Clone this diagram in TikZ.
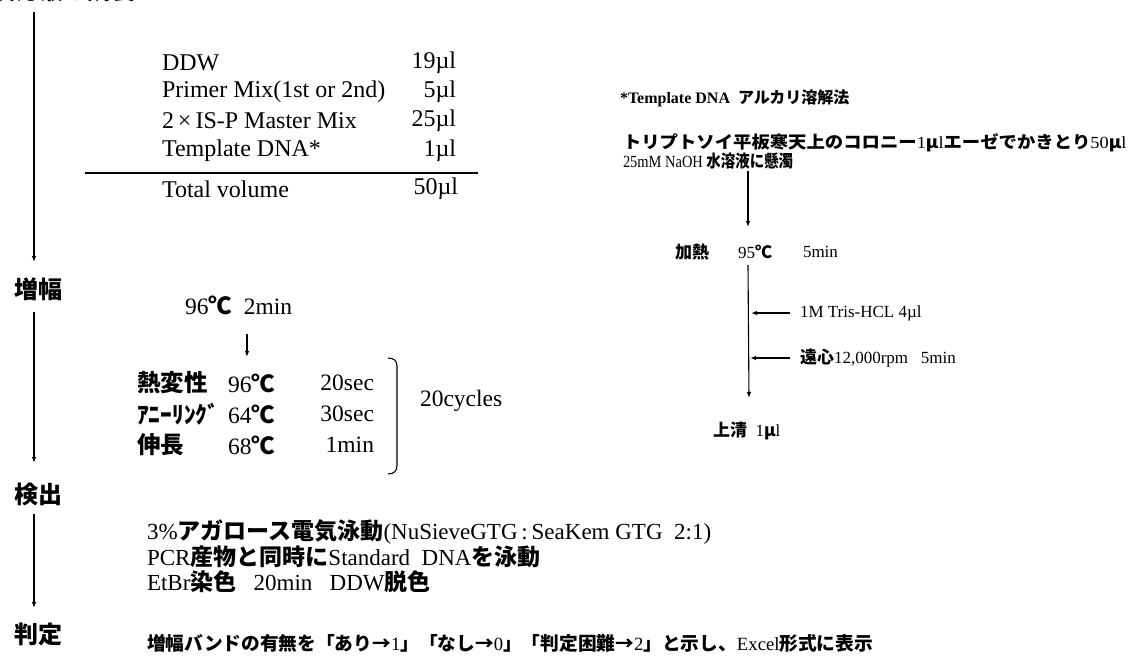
\documentclass[tikz,border=0pt]{standalone}
\usepackage{fontspec}
\setmainfont{Liberation Serif}
\newfontfamily\jp{Noto Sans CJK JP}
\usetikzlibrary{arrows.meta}
\newcommand{\J}[1]{{\jp\bfseries #1}}
\begin{document}
\begin{tikzpicture}[x=1pt,y=-1pt,
  every node/.style={inner sep=0pt,outer sep=0pt},
  head/.style={font=\jp\bfseries\fontsize{24}{24}\selectfont,anchor=center},
  tbl/.style={font=\fontsize{24}{24}\selectfont,anchor=west},
  val/.style={font=\fontsize{24}{24}\selectfont,anchor=east},
  pcr/.style={font=\fontsize{23.5}{24}\selectfont,anchor=west},
  pcrj/.style={font=\jp\bfseries\fontsize{23.5}{24}\selectfont,anchor=west},
  pcrv/.style={font=\fontsize{23.5}{24}\selectfont,anchor=east},
  rt/.style={font=\fontsize{17}{17}\selectfont,anchor=west},
  det/.style={font=\fontsize{23}{23}\selectfont,anchor=west},
  flow/.style={-{Latex[length=6pt,width=4.5pt]},line width=1.1pt},
  rule/.style={line width=1.1pt}]
\useasboundingbox (0,0) rectangle (1130,659);
% clipped title at top
\node[head,anchor=west] (title) at (-8,-9.5) {反応液の調製};
% main flow
\coordinate (s0) at (34,12);
\coordinate (e0) at (34,262);
\node[head] (amp) at (38,289) {増幅};
\coordinate (s1) at (34,312);
\coordinate (e1) at (34,463);
\node[head] (det) at (38,494) {検出};
\coordinate (s2) at (34,514);
\coordinate (e2) at (34,608);
\node[head] (judge) at (38,634) {判定};
\draw[flow] (s0) -- (e0);
\draw[flow] (s1) -- (e1);
\draw[flow] (s2) -- (e2);
% table
\node[tbl] (r1) at (162,63) {DDW};
\node[tbl] (r2) at (162,92) {Primer Mix(1st or 2nd)};
\node[tbl] (r3) at (162,121) {2\,×\,IS-P Master Mix};
\node[tbl] (r4) at (162,151) {Template DNA*};
\node[tbl] (r5) at (162,189) {Total volume};
\node[val] (v1) at (456,63) {19µl};
\node[val] (v2) at (456,92) {5µl};
\node[val] (v3) at (456,121) {25µl};
\node[val] (v4) at (456,151) {1µl};
\node[val] (v5) at (458,189) {50µl};
\coordinate (l0) at (85,173);
\coordinate (l1) at (478,173);
\draw[rule] (l0) -- (l1);
% PCR
\node[pcr] (p0) at (185,305) {96\J{℃}\ \ 2min};
\coordinate (pa) at (247,334);
\coordinate (pb) at (247,357);
\draw[flow] (pa) -- (pb);
\node[pcrj] (c1) at (137,383) {熱変性};
\node[pcrj] (c2) at (137,414) {ｱﾆｰﾘﾝｸﾞ};
\node[pcrj] (c3) at (137,445) {伸長};
\node[pcr] (t1) at (228,383) {96\J{℃}};
\node[pcr] (t2) at (228,414) {64\J{℃}};
\node[pcr] (t3) at (228,445) {68\J{℃}};
\node[pcrv] (d1) at (374,383) {20sec};
\node[pcrv] (d2) at (374,414) {30sec};
\node[pcrv] (d3) at (374,445) {1min};
\coordinate (b0) at (388,358);
\coordinate (b1) at (397,366);
\coordinate (b2) at (397,465);
\coordinate (b3) at (388,474);
\draw[rule] (b0) .. controls (394,358) and (397,361) .. (b1) -- (b2) .. controls (397,471) and (394,474) .. (b3);
\node[pcr] (cyc) at (420,401) {20cycles};
% right side
\node[rt,font=\bfseries\fontsize{16}{16}\selectfont] (tmpl) at (620,98) {*Template DNA\ \ \J{アルカリ溶解法}};
\node[rt] (a1) at (623,143) {\scalebox{1.08}[1]{\J{トリプトソイ平板寒天上のコロニー}1\J{μ}l\J{エーゼでかきとり}50\J{μ}l}};
\node[rt] (a2) at (623,161) {\scalebox{0.85}[1]{25mM NaOH \J{水溶液に懸濁}}};
\coordinate (ra) at (748,171);
\coordinate (rb) at (748,227);
\draw[flow] (ra) -- (rb);
\node[rt] (h1) at (675,252) {\J{加熱}};
\node[rt] (h2) at (738,252) {95\J{℃}};
\node[rt] (h3) at (803,252) {5min};
\coordinate (rc) at (748,265);
\coordinate (rd) at (749,398);
\draw[flow] (rc) -- (rd);
\coordinate (x1) at (790,313);
\coordinate (y1) at (751,313);
\coordinate (x2) at (790,358);
\coordinate (y2) at (750,358);
\draw[flow] (x1) -- (y1);
\draw[flow] (x2) -- (y2);
\node[rt] (tris) at (800,313) {1M Tris-HCL 4µl};
\node[rt] (cent) at (800,358) {\J{遠心}12,000rpm\ \ \ 5min};
\node[rt] (sup) at (713,431) {\J{上清}\ \ 1\J{μ}l};
% detection text
\node[det] (g1) at (147,532) {3\%\J{アガロース電気泳動}(NuSieveGTG\,:\,SeaKem GTG\ \ 2:1)};
\node[det] (g2) at (147,557) {PCR\J{産物と同時に}Standard\ \ DNA\J{を泳動}};
\node[det] (g3) at (147,582) {EtBr\J{染色}\ \ \ 20min\ \ \ DDW\J{脱色}};
% judgement text
\node[det,font=\fontsize{18.7}{18.7}\selectfont] (res) at (147,643) {\J{増幅バンドの有無を「あり→}1\J{」「なし→}0\J{」「判定困難→}2\J{」と示し、}Excel\J{形式に表示}};
\end{tikzpicture}
\end{document}
